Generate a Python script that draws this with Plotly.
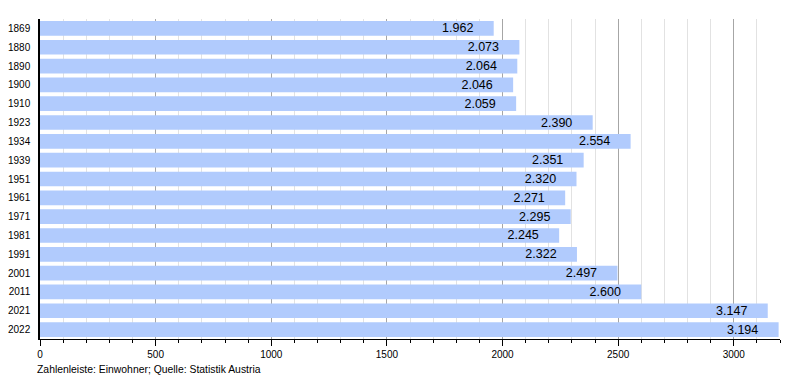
import plotly.graph_objects as go

years = ["1869", "1880", "1890", "1900", "1910", "1923", "1934", "1939", "1951",
         "1961", "1971", "1981", "1991", "2001", "2011", "2021", "2022"]
population = [1962, 2073, 2064, 2046, 2059, 2390, 2554, 2351, 2320,
              2271, 2295, 2245, 2322, 2497, 2600, 3147, 3194]
labels = [f"{v:,}".replace(",", ".") + "\u00a0" * 5 for v in population]

fig = go.Figure(go.Bar(
    x=population, y=years, orientation="h",
    marker=dict(color="#b1cbfd", line=dict(width=0)),
    text=labels, textposition="inside", insidetextanchor="end",
    constraintext="none",
    textfont=dict(color="black", size=12.5, family="Liberation Sans, Arial"),
    hoverinfo="skip",
))

# page body has an 8px margin, so margins are shifted to compensate
fig.update_layout(
    width=800, height=380,
    margin=dict(l=32, r=28, t=11, b=49),
    plot_bgcolor="white", paper_bgcolor="white",
    bargap=0.22,
    showlegend=False,
    font=dict(family="Liberation Sans, Arial", size=10, color="black"),
)
fig.update_xaxes(
    range=[0, 3200], dtick=500, tick0=0,
    showgrid=True, gridcolor="#a6a6a6", gridwidth=1,
    ticks="outside", ticklen=6, tickcolor="black",
    showline=True, linecolor="black", linewidth=1,
    zeroline=False, automargin=False,
    minor=dict(dtick=100, showgrid=True, gridcolor="#e2e2e2", ticks="outside",
               ticklen=3, tickcolor="black"),
    tickfont=dict(size=10),
)
fig.update_yaxes(
    autorange="reversed", showgrid=False, automargin=False,
    showline=True, linecolor="black", linewidth=1.5,
    ticks="", ticklabelstandoff=6,
    tickfont=dict(size=10),
)
fig.add_annotation(
    text="Zahlenleiste: Einwohner; Quelle: Statistik Austria",
    xref="paper", yref="paper", x=-0.007, y=-0.094,
    xanchor="left", yanchor="middle", showarrow=False,
    font=dict(size=10.4, color="black"),
)

fig.write_html("out.html")
